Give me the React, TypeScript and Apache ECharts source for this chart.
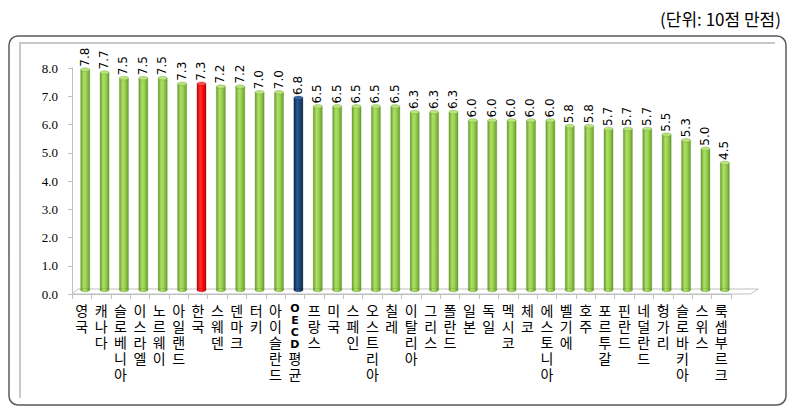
import React, { useEffect, useRef } from "react";
import * as echarts from "echarts";

const categories = [
  "영국", "캐나다", "슬로베니아", "이스라엘", "노르웨이", "아일랜드", "한국", "스웨덴", "덴마크", "터키",
  "아이슬란드", "OECD평균", "프랑스", "미국", "스페인", "오스트리아", "칠레", "이탈리아", "그리스", "폴란드",
  "일본", "독일", "멕시코", "체코", "에스토니아", "벨기에", "호주", "포르투갈", "핀란드", "네덜란드",
  "헝가리", "슬로바키아", "스위스", "룩셈부르크",
];
const values = [
  7.8, 7.7, 7.5, 7.5, 7.5, 7.3, 7.3, 7.2, 7.2, 7.0,
  7.0, 6.8, 6.5, 6.5, 6.5, 6.5, 6.5, 6.3, 6.3, 6.3,
  6.0, 6.0, 6.0, 6.0, 6.0, 5.8, 5.8, 5.7, 5.7, 5.7,
  5.5, 5.3, 5.0, 4.5,
];
const highlightKorea = "한국";
const highlightOECD = "OECD평균";
const unitText = "(단위: 10점 만점)";

function grad(edge: string, mid: string, mid2: string) {
  return new echarts.graphic.LinearGradient(0, 0, 1, 0, [
    { offset: 0, color: edge },
    { offset: 0.35, color: mid },
    { offset: 0.6, color: mid2 },
    { offset: 1, color: edge },
  ]);
}

export default function App() {
  const ref = useRef<HTMLDivElement>(null);
  useEffect(() => {
    if (!ref.current) return;
    const chart = echarts.init(ref.current, undefined, { renderer: "svg" });
    const DX = 3.5;
    const DY = -4;
    const W = 9;
    const option: any = {
      animation: false,
      backgroundColor: "#ffffff",
      title: {
        text: unitText,
        right: 14,
        top: 5,
        textStyle: { fontSize: 17, fontWeight: "normal", color: "#000", fontFamily: "Noto Sans CJK KR" },
      },
      grid: { left: 72, right: 69, top: 68, bottom: 118 },
      xAxis: {
        type: "category",
        data: categories,
        axisLine: { show: true, lineStyle: { color: "#bfbfbf", width: 1 } },
        axisTick: { show: true, alignWithLabel: false, length: 5, lineStyle: { color: "#bfbfbf" } },
        axisLabel: {
          interval: 0,
          margin: 8,
          fontSize: 14,
          lineHeight: 16,
          color: "#000",
          fontFamily: "Noto Sans CJK KR",
          verticalAlign: "top",
          formatter: (v: string) => {
            const chars = Array.from(v);
            return chars
              .map((c) => (/[A-Za-z]/.test(c) ? `{e|${c}}` : c))
              .join("\n");
          },
          rich: {
            e: { fontSize: 11, lineHeight: 12, fontWeight: "bold", color: "#000", fontFamily: "DejaVu Sans" },
          },
        },
      },
      yAxis: {
        type: "value",
        min: 0,
        max: 8,
        interval: 1,
        axisLine: { show: true, lineStyle: { color: "#bfbfbf", width: 1 } },
        axisTick: { show: true, length: 4, lineStyle: { color: "#bfbfbf" } },
        splitLine: { show: false },
        axisLabel: {
          margin: 14,
          fontSize: 13,
          color: "#000",
          fontFamily: "Liberation Serif",
          formatter: (v: number) => v.toFixed(1),
        },
      },
      series: [
        {
          type: "custom",
          data: values.map((v, i) => [i, v]),
          encode: { x: 0, y: 1 },
          renderItem: (params: any, api: any) => {
            const idx = api.value(0);
            const val = api.value(1);
            const top = api.coord([idx, val]);
            const base = api.coord([idx, 0]);
            const cx = top[0] + DX;
            const ty = top[1] + DY;
            const by = base[1] + DY;
            const name = categories[idx];
            let body, cap, stroke;
            if (name === highlightKorea) {
              body = grad("#c00000", "#ff3030", "#ff1010");
              cap = "#ff4d4d";
              stroke = "rgba(140,0,0,0.6)";
            } else if (name === highlightOECD) {
              body = grad("#0f2440", "#2a5a96", "#1f4a80");
              cap = "#3566a6";
              stroke = "rgba(10,25,50,0.6)";
            } else {
              body = grad("#6a9f2a", "#aee068", "#9bd352");
              cap = "#b9e67c";
              stroke = "rgba(80,120,30,0.55)";
            }
            return {
              type: "group",
              children: [
                {
                  type: "rect",
                  shape: { x: cx - W / 2, y: ty, width: W, height: by - ty },
                  style: { fill: body, stroke, lineWidth: 0.5 },
                },
                {
                  type: "ellipse",
                  shape: { cx, cy: by, rx: W / 2, ry: 1.8 },
                  style: { fill: body, stroke, lineWidth: 0.5 },
                },
                {
                  type: "ellipse",
                  shape: { cx, cy: ty, rx: W / 2, ry: 1.8 },
                  style: { fill: cap, stroke, lineWidth: 0.5 },
                },
                {
                  type: "text",
                  x: cx - 0.5,
                  y: ty - 3,
                  rotation: Math.PI / 2,
                  style: {
                    text: val.toFixed(1),
                    fontSize: 12,
                    fontFamily: "DejaVu Sans",
                    fill: "#000",
                    align: "left",
                    verticalAlign: "middle",
                  },
                },
              ],
            };
          },
        },
      ],
    };
    chart.setOption(option);

    const p0 = chart.convertToPixel({ xAxisIndex: 0, yAxisIndex: 0 }, [0, 0]) as number[];
    const p1 = chart.convertToPixel({ xAxisIndex: 0, yAxisIndex: 0 }, [1, 0]) as number[];
    const pn = chart.convertToPixel({ xAxisIndex: 0, yAxisIndex: 0 }, [categories.length - 1, 0]) as number[];
    const band = p1[0] - p0[0];
    const fl = p0[0] - band / 2;
    const fr = pn[0] + band * 1.5;
    const fy = p0[1];

    chart.setOption({
      graphic: [
        {
          type: "rect",
          z: -10,
          shape: { x: 9, y: 36, width: 777, height: 369, r: 9 },
          style: { fill: "transparent", stroke: "#5a5a5a", lineWidth: 1.5 },
          silent: true,
        },
        {
          type: "polyline",
          z: -9,
          shape: { points: [[20, 398], [20, 43], [775, 43]] },
          style: { fill: "none", stroke: "#c8c8c8", lineWidth: 2 },
          silent: true,
        },
        {
          type: "polyline",
          z: -5,
          shape: { points: [[fl, fy], [fl + 6, fy - 5], [fr + 8, fy - 5], [fr, fy], [fl, fy]] },
          style: { fill: "none", stroke: "#bfbfbf", lineWidth: 1 },
          silent: true,
        },
      ],
    });

    return () => chart.dispose();
  }, []);
  return (
    <div
      ref={ref}
      style={{ position: "fixed", left: 0, top: 0, width: 800, height: 412 }}
    />
  );
}
